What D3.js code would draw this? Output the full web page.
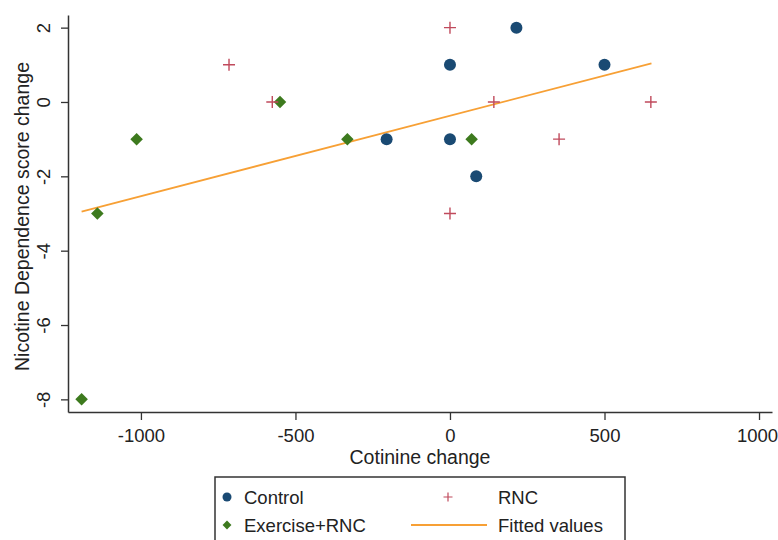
<!DOCTYPE html>
<html>
<head>
<meta charset="utf-8">
<script src="https://cdn.jsdelivr.net/npm/d3@7"></script>
<style>
  body { margin: 0; background: #fff; }
  svg { font-family: "Liberation Sans", Arial, sans-serif; }
</style>
</head>
<body>
<svg id="chart" width="778" height="540"></svg>
<script>
// values
const controlX = [-205, 0, 0, 215, 500, 85];
const controlY = [-1, 1, -1, 2, 1, -2];
const exerciseX = [-1192, -1141, -1014, -550, -332, 70];
const exerciseY = [-8, -3, -1, 0, -1, -1];
const rncX = [-715, -575, 0, 0, 142, 353, 650];
const rncY = [1, 0, 2, -3, 0, -1, 0];
const fitX = [-1192, 652];
const fitY = [-2.95, 1.04];
const xTicks = [-1000, -500, 0, 500, 1000];
const yTicks = [2, 0, -2, -4, -6, -8];

const colors = { control: '#1a4a73', exercise: '#3d7a1e', rnc: '#c04a5c', fit: '#f7a035' };

const svg = d3.select('#chart');
const plotLeft = 68, plotRight = 772, plotTop = 15, plotBottom = 412;
const plainNum = d => String(d); // Stata prints a hyphen, no thousands comma

const x = d3.scaleLinear().domain([-1236, 1042]).range([plotLeft, plotRight]);
const y = d3.scaleLinear().domain([-8.34, 2.34]).range([plotBottom, plotTop]);

// x axis
const xAxis = svg.append('g')
    .attr('transform', `translate(0,${plotBottom})`)
    .call(d3.axisBottom(x).tickValues(xTicks).tickFormat(plainNum).tickSize(8).tickPadding(9).tickSizeOuter(0));
xAxis.select('.domain').attr('stroke', '#333').attr('stroke-width', 1.5);
xAxis.selectAll('.tick line').attr('stroke', '#333').attr('stroke-width', 1.3);
xAxis.selectAll('.tick text').attr('font-size', 18.5).attr('fill', '#222')
    .attr('dx', d => d === 1000 ? -2 : 0);

// y axis, labels turned like Stata
const yAxis = svg.append('g')
    .attr('transform', `translate(${plotLeft},0)`)
    .call(d3.axisLeft(y).tickValues(yTicks).tickFormat(plainNum).tickSize(7).tickSizeOuter(0));
yAxis.select('.domain').attr('stroke', '#333').attr('stroke-width', 1.5);
yAxis.selectAll('.tick line').attr('stroke', '#333').attr('stroke-width', 1.3);
yAxis.selectAll('.tick text')
    .attr('font-size', 18.5).attr('fill', '#222')
    .attr('x', null).attr('dy', null)
    .attr('text-anchor', 'middle')
    .attr('transform', 'translate(-18,0) rotate(-90)');

svg.append('text')
    .attr('x', (plotLeft + plotRight) / 2).attr('y', 464)
    .attr('text-anchor', 'middle').attr('font-size', 19.5).attr('fill', '#222')
    .text('Cotinine change');

svg.append('text')
    .attr('transform', `translate(29,${(plotTop + plotBottom) / 2 + 3}) rotate(-90)`)
    .attr('text-anchor', 'middle').attr('font-size', 19.5).attr('fill', '#222')
    .text('Nicotine Dependence score change');

// fitted line
svg.append('line')
    .attr('x1', x(fitX[0])).attr('y1', y(fitY[0]))
    .attr('x2', x(fitX[1])).attr('y2', y(fitY[1]))
    .attr('stroke', colors.fit).attr('stroke-width', 1.8);

const plot = svg.append('g');

plot.selectAll('circle.control')
    .data(controlX.map((d, i) => [d, controlY[i]]))
    .enter().append('circle')
    .attr('class', 'control')
    .attr('cx', d => x(d[0])).attr('cy', d => y(d[1]))
    .attr('r', 6).attr('fill', colors.control);

const diamond = d3.symbol().type(d3.symbolDiamond2).size(100);
plot.selectAll('path.exercise')
    .data(exerciseX.map((d, i) => [d, exerciseY[i]]))
    .enter().append('path')
    .attr('class', 'exercise')
    .attr('d', diamond)
    .attr('transform', d => `translate(${x(d[0])},${y(d[1])})`)
    .attr('fill', colors.exercise);

const plusPath = 'M-6,0H6M0,-6V6';
plot.selectAll('path.rnc')
    .data(rncX.map((d, i) => [d, rncY[i]]))
    .enter().append('path')
    .attr('class', 'rnc')
    .attr('d', plusPath)
    .attr('transform', d => `translate(${x(d[0])},${y(d[1])})`)
    .attr('stroke', colors.rnc).attr('stroke-width', 1.4).attr('fill', 'none');

// legend
const legend = svg.append('g');
legend.append('rect')
    .attr('x', 215).attr('y', 477).attr('width', 410).attr('height', 80)
    .attr('fill', 'none').attr('stroke', '#333').attr('stroke-width', 1.5);

const items = [
    { label: 'Control', mx: 227, tx: 244, yy: 497, kind: 'control' },
    { label: 'Exercise+RNC', mx: 227, tx: 244, yy: 525, kind: 'exercise' },
    { label: 'RNC', mx: 448, tx: 498, yy: 497, kind: 'rnc' },
    { label: 'Fitted values', mx: 449, tx: 498, yy: 525, kind: 'fit' }
];

items.forEach(it => {
    if (it.kind === 'control') {
        legend.append('circle').attr('cx', it.mx).attr('cy', it.yy).attr('r', 4.5).attr('fill', colors.control);
    } else if (it.kind === 'exercise') {
        legend.append('path').attr('d', d3.symbol().type(d3.symbolDiamond2).size(50))
            .attr('transform', `translate(${it.mx},${it.yy})`).attr('fill', colors.exercise);
    } else if (it.kind === 'rnc') {
        legend.append('path').attr('d', 'M-4.5,0H4.5M0,-4.5V4.5')
            .attr('transform', `translate(${it.mx},${it.yy})`)
            .attr('stroke', colors.rnc).attr('stroke-width', 1.2);
    } else {
        legend.append('line').attr('x1', 411).attr('x2', 487).attr('y1', it.yy).attr('y2', it.yy)
            .attr('stroke', colors.fit).attr('stroke-width', 1.8);
    }
    legend.append('text')
        .attr('x', it.tx).attr('y', it.yy + 6.5)
        .attr('font-size', 18.5).attr('fill', '#222')
        .text(it.label);
});
</script>
</body>
</html>
